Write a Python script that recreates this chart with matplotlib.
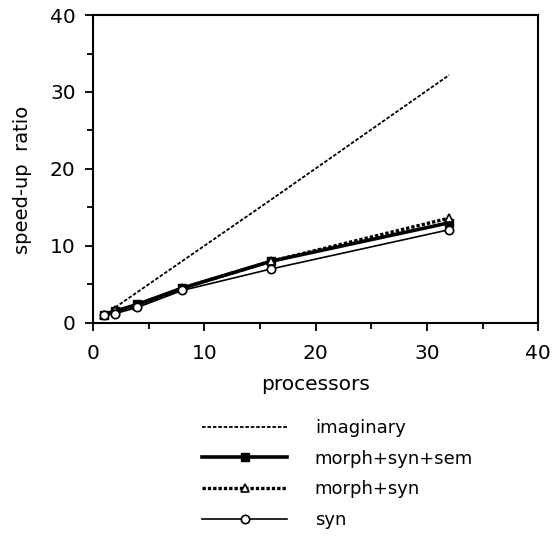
import matplotlib.pyplot as plt
from matplotlib.ticker import MultipleLocator

plt.rcParams['font.family'] = ['DejaVu Sans']

processors = [1, 2, 4, 8, 16, 32]
imaginary_x = [2, 4, 8, 16, 32]
imaginary = [2, 4, 8, 16, 32.2]
morph_syn_sem = [1.0, 1.5, 2.4, 4.5, 8.0, 13.0]
morph_syn = [1.0, 1.6, 2.2, 4.5, 8.0, 13.6]
syn = [1.0, 1.2, 2.0, 4.2, 7.0, 12.1]

fig = plt.figure(figsize=(5.6, 5.38), dpi=100)
ax = fig.add_axes([0.166, 0.400, 0.795, 0.572])

ax.plot(imaginary_x, imaginary, color='black', lw=1.3, ls=(0, (2, 1)), label='imaginary')
ax.plot(processors, morph_syn_sem, color='black', lw=2.6, marker='s', ms=6,
        label='morph+syn+sem')
ax.plot(processors, morph_syn, color='black', lw=2.4, ls=(0, (1, 0.6)), marker='^', ms=6,
        mfc='white', mec='black', mew=1.2, label='morph+syn')
ax.plot(processors, syn, color='black', lw=1.2, marker='o', ms=6, mfc='white',
        mec='black', mew=1.2, label='syn')

ax.set_xlim(0, 40)
ax.set_ylim(0, 40)
ax.xaxis.set_major_locator(MultipleLocator(10))
ax.xaxis.set_minor_locator(MultipleLocator(5))
ax.yaxis.set_major_locator(MultipleLocator(10))
ax.yaxis.set_minor_locator(MultipleLocator(5))
ax.tick_params(which='both', direction='out', labelsize=14.5, width=1.3, pad=6.5)
ax.tick_params(axis='x', which='both', pad=9)
ax.tick_params(which='major', length=6)
ax.tick_params(which='minor', length=4)
for s in ax.spines.values():
    s.set_linewidth(1.5)

ax.set_xlabel('processors', fontsize=14.5, labelpad=9)
ax.set_ylabel('speed-up  ratio', fontsize=14, labelpad=13, y=0.464)

fig.legend(loc='upper left', bbox_to_anchor=(0.361, 0.221), frameon=False, fontsize=13,
           handlelength=4.7, handletextpad=1.54, labelspacing=0.70,
           borderpad=0, borderaxespad=0)

fig.savefig('out.png', dpi=100)
